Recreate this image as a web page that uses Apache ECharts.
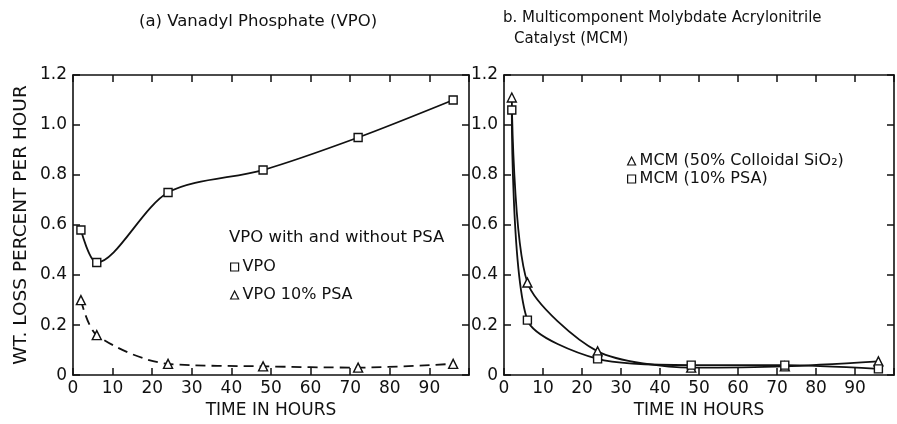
<!DOCTYPE html>
<html>
<head>
<meta charset="utf-8">
<script src="https://cdn.jsdelivr.net/npm/echarts@6/dist/echarts.min.js"></script>
<style>
  html, body { margin: 0; padding: 0; background: #fff; }
  #chart { width: 897px; height: 424px; }
</style>
</head>
<body>
<div id="chart"></div>
<script>
// Sampling times (hours) shared by all four runs
const hours = [2, 6, 24, 48, 72, 96];

// (a) Vanadyl phosphate, wt. loss % per hour
const vpo = [0.58, 0.45, 0.73, 0.82, 0.95, 1.10];
const vpoPsa = [0.30, 0.16, 0.045, 0.035, 0.03, 0.045];

// (b) Multicomponent molybdate acrylonitrile catalyst
const mcmSilica = [1.11, 0.37, 0.095, 0.03, 0.035, 0.055];
const mcmPsa = [1.06, 0.22, 0.065, 0.04, 0.04, 0.025];

// Axis ticks
const xTicks = [0, 10, 20, 30, 40, 50, 60, 70, 80, 90];
const yTicks = [0, 0.2, 0.4, 0.6, 0.8, 1.0, 1.2];

const FONT = 'DejaVu Sans';
const INK = '#111';

function pairs(xs, ys) { return xs.map((x, i) => [x, ys[i]]); }

const frameLine = { show: true, onZero: false, lineStyle: { color: INK, width: 1.6 } };
const innerTick = { show: true, inside: true, length: 7, lineStyle: { color: INK, width: 1.5 } };

function xAxisPair(gridIndex) {
  const base = {
    gridIndex, type: 'value', min: 0, max: 100, interval: 10,
    axisLine: frameLine, axisTick: innerTick, splitLine: { show: false }
  };
  return [
    Object.assign({}, base, {
      position: 'bottom',
      name: 'TIME IN HOURS', nameLocation: 'middle', nameGap: 23,
      nameTextStyle: { fontFamily: FONT, fontSize: 17, color: INK },
      axisLabel: {
        show: true, margin: 5, fontFamily: FONT, fontSize: 17, color: INK,
        formatter: v => (xTicks.indexOf(v) >= 0 ? String(v) : '')
      }
    }),
    Object.assign({}, base, { position: 'top', axisLabel: { show: false } })
  ];
}

function yAxisPair(gridIndex, withName) {
  const base = {
    gridIndex, type: 'value', min: 0, max: 1.2, interval: 0.2,
    axisLine: frameLine, axisTick: innerTick, splitLine: { show: false }
  };
  const left = Object.assign({}, base, {
    position: 'left',
    axisLabel: {
      show: true, margin: 6, fontFamily: FONT, fontSize: 17, color: INK,
      formatter: v => {
        const t = yTicks.find(k => Math.abs(k - v) < 1e-6);
        if (t === undefined) return '';
        return t === 0 ? '0' : t.toFixed(1);
      }
    }
  });
  if (withName) {
    Object.assign(left, {
      name: 'WT. LOSS PERCENT PER HOUR', nameLocation: 'middle', nameGap: 42,
      nameTextStyle: { fontFamily: FONT, fontSize: 18.5, color: INK }
    });
  }
  return [left, Object.assign({}, base, { position: 'right', axisLabel: { show: false } })];
}

function lineSeries(name, xi, yi, data, symbol, dashed, smooth) {
  return {
    name, type: 'line', xAxisIndex: xi, yAxisIndex: yi,
    data, smooth,
    symbol, symbolSize: symbol === 'triangle' ? 9 : 8,
    itemStyle: { color: '#fff', borderColor: INK, borderWidth: 1.4 },
    lineStyle: { color: INK, width: 1.8, type: dashed ? [10, 6] : 'solid' },
    z: 3
  };
}

const openIcon = { color: '#fff', borderColor: INK, borderWidth: 1.2 };
const legendText = { fontFamily: FONT, fontSize: 16, color: INK, padding: [0, 0, 0, -1] };

const chart = echarts.init(document.getElementById('chart'), null, { renderer: 'canvas' });
chart.setOption({
  animation: false,
  backgroundColor: '#fff',
  grid: [
    { left: 73, top: 75, width: 396, height: 303 },
    { left: 504, top: 75, width: 392, height: 303 }
  ],
  xAxis: [...xAxisPair(0), ...xAxisPair(1)],
  yAxis: [...yAxisPair(0, true), ...yAxisPair(1, false)],
  legend: [
    {
      orient: 'vertical', left: 225, top: 254, itemGap: 12,
      itemWidth: 8, itemHeight: 8, selectedMode: false, textStyle: legendText,
      data: [
        { name: 'VPO', icon: 'rect', itemStyle: openIcon },
        { name: 'VPO 10% PSA', icon: 'triangle', itemStyle: openIcon }
      ]
    },
    {
      orient: 'vertical', left: 622, top: 148, itemGap: 2,
      itemWidth: 8, itemHeight: 8, selectedMode: false, textStyle: legendText,
      data: [
        { name: 'MCM (50% Colloidal SiO₂)', icon: 'triangle', itemStyle: openIcon },
        { name: 'MCM (10% PSA)', icon: 'rect', itemStyle: openIcon }
      ]
    }
  ],
  graphic: [
    { type: 'text', left: 139, top: 13,
      style: { text: '(a) Vanadyl Phosphate (VPO)', font: '16.5px "DejaVu Sans"', fill: INK } },
    { type: 'text', left: 503, top: 11,
      style: { text: 'b. Multicomponent Molybdate Acrylonitrile', font: '15px "DejaVu Sans"', fill: INK } },
    { type: 'text', left: 514, top: 32,
      style: { text: 'Catalyst (MCM)', font: '15px "DejaVu Sans"', fill: INK } },
    { type: 'text', left: 229, top: 229,
      style: { text: 'VPO with and without PSA', font: '16.5px "DejaVu Sans"', fill: INK } }
  ],
  series: [
    lineSeries('VPO', 0, 0, pairs(hours, vpo), 'rect', false, 0.3),
    lineSeries('VPO 10% PSA', 0, 0, pairs(hours, vpoPsa), 'triangle', true, 0.3),
    lineSeries('MCM (50% Colloidal SiO₂)', 2, 2, pairs(hours, mcmSilica), 'triangle', false, 0.25),
    lineSeries('MCM (10% PSA)', 2, 2, pairs(hours, mcmPsa), 'rect', false, 0.25)
  ]
});
</script>
</body>
</html>
